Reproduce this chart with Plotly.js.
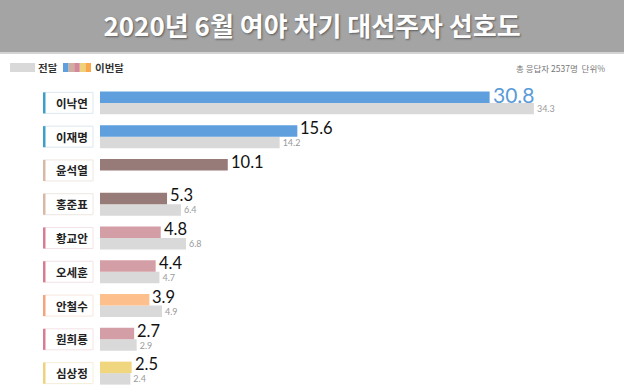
<!DOCTYPE html>
<html>
<head>
<meta charset="utf-8">
<script src="https://cdn.plot.ly/plotly-3.0.1.min.js"></script>
<style>html,body{margin:0;padding:0;background:#fff;}#chart{width:624px;height:390px;}</style>
</head>
<body>
<div id="chart"></div>
<script>
// ---- data ----
const candidates = ['이낙연','이재명','윤석열','홍준표','황교안','오세훈','안철수','원희룡','심상정'];
const thisMonth = [30.8, 15.6, 10.1, 5.3, 4.8, 4.4, 3.9, 2.7, 2.5];
const lastMonth = [34.3, 14.2, null, 6.4, 6.8, 4.7, 4.9, 2.9, 2.4];
const barColors = ['#5f9fdd','#5f9fdd','#977b79','#977b79','#d39ea6','#d39ea6','#fdbf8c','#d39ea6','#f0d67e'];
const stripColors = ['#3f9fc6','#3f9fc6','#d8b9a8','#d8b9a8','#d77c92','#d77c92','#f4a37e','#d77c92','#efd27a'];
const boxBorders = ['#dbe7f0','#dbe7f0','#eee6e1','#eee6e1','#f3e2e6','#f3e2e6','#f7e6dc','#f3e2e6','#f4eed9'];
const titleText = '2020년 6월 여야 차기 대선주자 선호도';
const legendPrev = '전달';
const legendCur = '이번달';
const legendSwatches = ['#5f9fdd','#cfae9f','#d4889b','#eed27a','#f9a84c'];
const noteText = '총 응답자 2537명  단위%';

// ---- layout geometry ----
const W = 624, H = 390;
const M = {l: 100, r: 18, t: 86, b: 0};
const plotW = W - M.l - M.r, plotH = H - M.t - M.b;
const px = x => (x - M.l) / plotW;
const py = y => (H - M.b - y) / plotH;
const n = candidates.length;
const rowPaperY = i => 1 - (i + 0.5) / n;
const BARW = 0.34;

const prevText = lastMonth.map(v => v == null ? '' : v.toFixed(1));

const valueFont = 'Lato, "Noto Sans", sans-serif';
const krFont = '"Noto Sans CJK KR", sans-serif';

const traces = [
  {
    type: 'bar', orientation: 'h', y: candidates, x: lastMonth,
    width: BARW, offset: 0,
    marker: {color: '#d9d9d9', line: {width: 0}},
    text: prevText, textposition: 'outside', cliponaxis: false, constraintext: 'none',
    textfont: {family: valueFont, size: 9, color: '#9a9a9a'},
    hoverinfo: 'skip', showlegend: false
  },
  {
    type: 'bar', orientation: 'h', y: candidates, x: thisMonth,
    width: BARW, offset: -BARW,
    marker: {color: barColors, line: {width: 0}},
    hoverinfo: 'skip', showlegend: false
  }
];

const shapes = [];
const annotations = [];

// title banner
shapes.push({type: 'rect', xref: 'paper', yref: 'paper', x0: px(0), x1: px(W), y0: py(52), y1: py(0),
  fillcolor: '#a4a4a4', line: {width: 0}, layer: 'below'});
shapes.push({type: 'rect', xref: 'paper', yref: 'paper', x0: px(0), x1: px(W), y0: py(54), y1: py(52),
  fillcolor: '#d4d4d4', line: {width: 0}, layer: 'below'});

// legend
shapes.push({type: 'rect', xref: 'paper', yref: 'paper', x0: px(10), x1: px(35), y0: py(72), y1: py(63),
  fillcolor: '#d9d9d9', line: {width: 0}});
legendSwatches.forEach((c, k) => {
  const w = 28 / legendSwatches.length;
  shapes.push({type: 'rect', xref: 'paper', yref: 'paper', x0: px(63 + k * w), x1: px(63 + (k + 1) * w),
    y0: py(72), y1: py(63), fillcolor: c, line: {width: 0}});
});
annotations.push({xref: 'paper', yref: 'paper', x: px(36), y: py(67.5), xanchor: 'left', yanchor: 'middle',
  text: legendPrev, showarrow: false, font: {family: krFont, size: 10.5, color: '#333', weight: 'bold'}});
annotations.push({xref: 'paper', yref: 'paper', x: px(93), y: py(67.5), xanchor: 'left', yanchor: 'middle',
  text: legendCur, showarrow: false, font: {family: krFont, size: 10.5, color: '#333', weight: 'bold'}});
annotations.push({xref: 'paper', yref: 'paper', x: px(607), y: py(68), xanchor: 'right', yanchor: 'middle',
  text: noteText, showarrow: false, font: {family: krFont, size: 8.5, color: '#777'}});

// category label boxes
candidates.forEach((name, i) => {
  const yc = rowPaperY(i);
  shapes.push({type: 'rect', xref: 'paper', yref: 'paper', x0: px(43.5), x1: px(93),
    y0: yc - 10.5 / plotH, y1: yc + 10.5 / plotH, fillcolor: '#ffffff',
    line: {color: boxBorders[i], width: 1}});
  shapes.push({type: 'rect', xref: 'paper', yref: 'paper', x0: px(43), x1: px(45.5),
    y0: yc - 10.5 / plotH, y1: yc + 10.5 / plotH, fillcolor: stripColors[i], line: {width: 0}});
  annotations.push({xref: 'paper', yref: 'y', x: px(90), y: name, xanchor: 'right', yanchor: 'middle',
    text: name, showarrow: false, font: {family: krFont, size: 11.5, color: '#222', weight: 'bold'}});
});

// current-month value labels, placed at the end of each bar via the axes
const barCenterShift = BARW / 2 * (plotH / n); // px from category centre to current-bar centre
thisMonth.forEach((v, i) => {
  annotations.push({xref: 'x', yref: 'y', x: v, y: candidates[i], xanchor: 'left', yanchor: 'middle',
    xshift: 1, yshift: barCenterShift + 3, text: v.toFixed(1), showarrow: false,
    font: {family: valueFont, size: i === 0 ? 21 : 16.5, color: i === 0 ? '#5b9bd8' : '#111'}});
});

const layout = {
  width: W, height: H,
  margin: M,
  paper_bgcolor: '#ffffff', plot_bgcolor: '#ffffff',
  barmode: 'overlay',
  title: {text: titleText, x: 0.5, xref: 'container', xanchor: 'center', y: 1 - 27 / H, yref: 'container', yanchor: 'middle',
    font: {family: krFont, size: 26, color: '#ffffff', weight: 'bold', shadow: '1px 1px 2px rgba(0,0,0,0.45)'}},
  xaxis: {range: [0, 40], showgrid: false, zeroline: false, showticklabels: false, showline: false, fixedrange: true},
  yaxis: {type: 'category', range: [n - 0.5, -0.5], showgrid: false, zeroline: false, showticklabels: false,
    showline: false, fixedrange: true},
  shapes: shapes,
  annotations: annotations,
  showlegend: false
};

Plotly.newPlot('chart', traces, layout, {displayModeBar: false, staticPlot: true});
</script>
</body>
</html>
